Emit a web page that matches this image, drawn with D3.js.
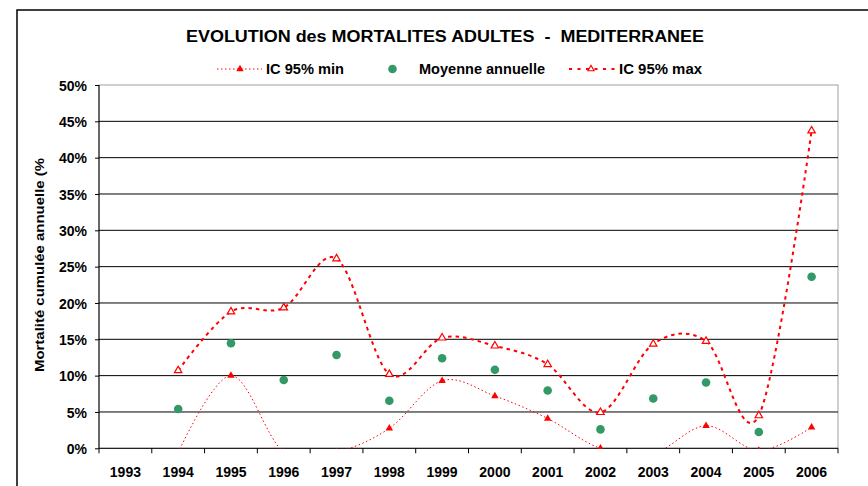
<!DOCTYPE html>
<html>
<head>
<meta charset="utf-8">
<script src="https://cdn.jsdelivr.net/npm/d3@7"></script>
<style>
  body { margin: 0; background: #fff; }
  svg { display: block; }
  text { font-family: "Liberation Sans", Arial, Helvetica, sans-serif; font-weight: bold; fill: #000; }
</style>
</head>
<body>
<svg id="chart" width="868" height="486"></svg>
<script>
// Years on the category axis
const years = ["1993","1994","1995","1996","1997","1998","1999","2000","2001","2002","2003","2004","2005","2006"];
// Lower bound of the 95% confidence interval (%), null where no value
const icMin = [null, -0.6, 10.0, -0.5, -0.5, 2.75, 9.3, 7.2, 4.1, 0.0, -0.7, 3.1, -0.3, 2.9];
// Annual mean cumulative mortality (%)
const moyenne = [null, 5.4, 14.45, 9.4, 12.85, 6.55, 12.4, 10.8, 7.95, 2.6, 6.85, 9.05, 2.25, 23.6];
// Upper bound of the 95% confidence interval (%)
const icMax = [null, 10.7, 18.8, 19.35, 26.1, 10.2, 15.2, 14.1, 11.55, 4.95, 14.35, 14.75, 4.5, 43.7];
// Y axis ticks (%)
const yTicks = [0, 5, 10, 15, 20, 25, 30, 35, 40, 45, 50];

const svg = d3.select("#chart");
const plot = { left: 99, right: 838, top: 85, bottom: 448.3 };

// Outer chart frame
svg.append("rect")
  .attr("x", 17).attr("y", 10).attr("width", 900).attr("height", 520)
  .attr("fill", "#fff").attr("stroke", "#000").attr("stroke-width", 1.5);

const x = d3.scaleBand().domain(years).range([plot.left, plot.right]).paddingInner(0).paddingOuter(0);
const y = d3.scaleLinear().domain([0, 50]).range([plot.bottom, plot.top]);
const cx = d => x(d) + x.bandwidth() / 2;

// Plot area border (top/right in grey)
svg.append("rect")
  .attr("x", plot.left).attr("y", plot.top)
  .attr("width", plot.right - plot.left).attr("height", plot.bottom - plot.top)
  .attr("fill", "#fff").attr("stroke", "#a0a0a0").attr("stroke-width", 1);

// Horizontal gridlines
svg.append("g").selectAll("line").data(yTicks.filter(t => t > 0 && t < 50)).join("line")
  .attr("x1", plot.left).attr("x2", plot.right)
  .attr("y1", d => y(d)).attr("y2", d => y(d))
  .attr("stroke", "#000").attr("stroke-width", 1);

// Y axis
const yAxis = svg.append("g").attr("transform", `translate(${plot.left},0)`)
  .call(d3.axisLeft(y).tickValues(yTicks).tickFormat(d => d + "%").tickSize(4).tickPadding(8));
yAxis.select(".domain").attr("stroke", "#000").attr("d", `M0,${plot.top}V${plot.bottom}`);
yAxis.selectAll(".tick line").attr("stroke", "#000");
yAxis.selectAll(".tick text").style("font-size", "14px").attr("dy", "0.36em");

// X axis: ticks at category boundaries, labels centred
const xAxis = svg.append("g").attr("transform", `translate(0,${plot.bottom})`);
xAxis.append("line").attr("x1", plot.left).attr("x2", plot.right).attr("y1", 0).attr("y2", 0)
  .attr("stroke", "#000");
const boundaries = years.map(d => x(d)).concat([plot.right]);
xAxis.selectAll(".bt").data(boundaries).join("line").attr("class", "bt")
  .attr("x1", d => d).attr("x2", d => d).attr("y1", 0).attr("y2", 5).attr("stroke", "#000");
xAxis.selectAll(".xl").data(years).join("text").attr("class", "xl")
  .attr("x", d => cx(d)).attr("y", 29).attr("text-anchor", "middle")
  .style("font-size", "14px").text(d => d);

// Clip for series inside plot area
svg.append("defs").append("clipPath").attr("id", "plotClip")
  .append("rect").attr("x", plot.left).attr("y", plot.top - 10)
  .attr("width", plot.right - plot.left + 10).attr("height", plot.bottom - plot.top + 10.5);

const series = svg.append("g").attr("clip-path", "url(#plotClip)");
const line = d3.line()
  .defined(d => d.v !== null)
  .x(d => cx(d.year)).y(d => y(d.v))
  .curve(d3.curveCardinal.tension(0));

const toPts = arr => years.map((yr, i) => ({ year: yr, v: arr[i] }));
const minPts = toPts(icMin), maxPts = toPts(icMax), meanPts = toPts(moyenne);

series.append("path").datum(minPts).attr("d", line)
  .attr("fill", "none").attr("stroke", "#ff0000").attr("stroke-width", 1)
  .attr("stroke-dasharray", "1.5,2.5");
series.append("path").datum(maxPts).attr("d", line)
  .attr("fill", "none").attr("stroke", "#ff0000").attr("stroke-width", 2)
  .attr("stroke-dasharray", "3.5,4");

const tri = d3.symbol().type(d3.symbolTriangle).size(24);
const triSmall = d3.symbol().type(d3.symbolTriangle).size(17);
series.selectAll(".mn").data(minPts.filter(d => d.v !== null)).join("path").attr("class", "mn")
  .attr("d", tri).attr("transform", d => `translate(${cx(d.year)},${y(d.v)})`)
  .attr("fill", "#ff0000");
series.selectAll(".mx").data(maxPts.filter(d => d.v !== null)).join("path").attr("class", "mx")
  .attr("d", tri).attr("transform", d => `translate(${cx(d.year)},${y(d.v)})`)
  .attr("fill", "#fff").attr("stroke", "#ff0000").attr("stroke-width", 1.2);
series.selectAll(".me").data(meanPts.filter(d => d.v !== null)).join("circle").attr("class", "me")
  .attr("cx", d => cx(d.year)).attr("cy", d => y(d.v)).attr("r", 4.3)
  .attr("fill", "#339966");

// Title
svg.append("text").attr("x", 186).attr("y", 42)
  .style("font-size", "16px").attr("xml:space", "preserve")
  .attr("textLength", 518).attr("lengthAdjust", "spacingAndGlyphs")
  .text("EVOLUTION des MORTALITES ADULTES  -  MEDITERRANEE");

// Legend
const lg = svg.append("g").attr("transform", "translate(0,69)");
lg.append("line").attr("x1", 217).attr("x2", 262).attr("y1", 0).attr("y2", 0)
  .attr("stroke", "#ff0000").attr("stroke-width", 1).attr("stroke-dasharray", "1.5,2.5");
lg.append("path").attr("d", tri).attr("transform", "translate(240,0)").attr("fill", "#ff0000");
lg.append("text").attr("x", 266).attr("y", 4.5).style("font-size", "14px")
  .attr("textLength", 78).attr("lengthAdjust", "spacingAndGlyphs").text("IC 95% min");
lg.append("circle").attr("cx", 392.5).attr("cy", 0).attr("r", 4.3).attr("fill", "#339966");
lg.append("text").attr("x", 419).attr("y", 4.5).style("font-size", "14px")
  .attr("textLength", 126).attr("lengthAdjust", "spacingAndGlyphs").text("Moyenne annuelle");
lg.append("line").attr("x1", 569).attr("x2", 616).attr("y1", 0).attr("y2", 0)
  .attr("stroke", "#ff0000").attr("stroke-width", 2).attr("stroke-dasharray", "3,5.5");
lg.append("path").attr("d", triSmall).attr("transform", "translate(591,0)")
  .attr("fill", "#fff").attr("stroke", "#ff0000").attr("stroke-width", 1.1);
lg.append("text").attr("x", 619).attr("y", 4.5).style("font-size", "14px")
  .attr("textLength", 83).attr("lengthAdjust", "spacingAndGlyphs").text("IC 95% max");

// Y axis title
svg.append("text").attr("transform", "translate(44,372) rotate(-90)")
  .attr("text-anchor", "start").style("font-size", "13.5px")
  .attr("textLength", 214).attr("lengthAdjust", "spacingAndGlyphs")
  .text("Mortalité cumulée annuelle (%");
</script>
</body>
</html>
